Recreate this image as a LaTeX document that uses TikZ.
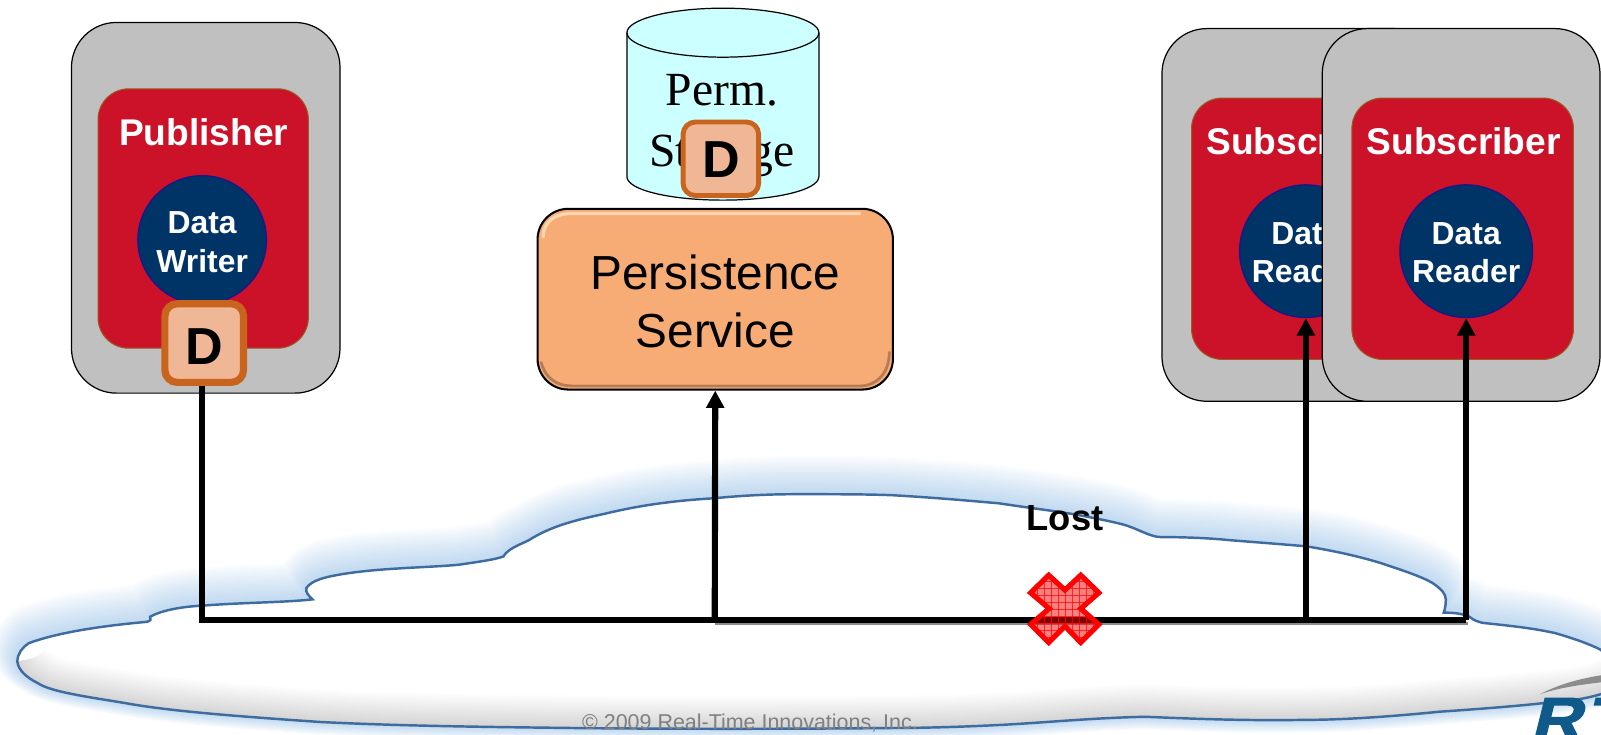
\documentclass[tikz,border=0pt]{standalone}
\usepackage{fontspec}
\setmainfont{Liberation Sans}
\newfontfamily\serifface{Liberation Serif}
\newfontface\logoface[FakeBold=2,FakeSlant=.25,FakeStretch=1.15]{Liberation Sans Bold}
\usetikzlibrary{arrows.meta}
\definecolor{boxgray}{HTML}{C0C0C0}
\definecolor{pubred}{HTML}{CC1229}
\definecolor{pubedge}{HTML}{9A5A20}
\definecolor{navy}{HTML}{003366}
\definecolor{navyedge}{HTML}{1A1490}
\definecolor{dfill}{HTML}{EFB795}
\definecolor{dedge}{HTML}{C8641E}
\definecolor{psfill}{HTML}{F7AC76}
\definecolor{pslight}{HTML}{FCD6B0}
\definecolor{psdark}{HTML}{9A6A48}
\definecolor{cyl}{HTML}{CCFFFF}
\definecolor{cloudedge}{HTML}{3F6C9E}
\definecolor{cloudglow}{HTML}{5B9BD8}
\definecolor{logoblue}{HTML}{0F5A8A}
\tikzset{
  x=0.5pt,y=-0.5pt,
  hostbox/.style={draw=black,line width=0.6pt,fill=boxgray,rounded corners=22pt,inner sep=0pt},
  redbox/.style={draw=pubedge,line width=0.5pt,fill=pubred,rounded corners=15pt,inner sep=0pt},
  endpoint/.style={circle,draw=navyedge,line width=0.6pt,fill=navy,inner sep=0pt},
  endtext/.style={text=white,font=\fontsize{15.6}{19}\bfseries\selectfont,align=center,inner sep=0pt},
  dbox/.style={draw=dedge,fill=dfill,rounded corners=6pt,inner sep=0pt},
  dtext/.style={font=\fontsize{25.5}{26}\bfseries\selectfont,inner sep=0pt},
  redlabel/.style={text=white,font=\fontsize{18.2}{18}\bfseries\selectfont,inner sep=0pt},
  wire/.style={line width=3pt,draw=black},
  arrowwire/.style={wire,-{Triangle[length=8.5pt,width=8.5pt]}},
}
\newcommand{\cloudtop}{(17,648) .. controls (17,640) and (22,634) .. (28,630)
 .. controls (60,618) and (110,612) .. (144,609) .. controls (148,608) and (148,606) .. (147,604)
 .. controls (160,597) and (180,594) .. (200,593) .. controls (240,590) and (280,590) .. (306,587)
 .. controls (302,583) and (299,580) .. (300,576) .. controls (305,568) and (320,565) .. (331,563)
 .. controls (370,556) and (420,556) .. (450,553) .. controls (470,550) and (485,548) .. (493,545)
 .. controls (498,537) and (508,534) .. (518,529) .. controls (540,515) and (565,509) .. (593,503)
 .. controls (630,494) and (665,490) .. (699,488) .. controls (730,485) and (755,484) .. (781,484)
 .. controls (815,484) and (850,484) .. (874,485) .. controls (910,487) and (945,490) .. (979,493)
 .. controls (1005,497) and (1030,500) .. (1054,504) .. controls (1080,509) and (1100,513) .. (1107,516)
 .. controls (1118,520) and (1128,526) .. (1137,526) .. controls (1160,526) and (1185,527) .. (1204,529)
 .. controls (1230,531) and (1255,533) .. (1279,535) .. controls (1310,540) and (1335,546) .. (1354,552)
 .. controls (1375,559) and (1393,565) .. (1403,571) .. controls (1412,577) and (1416,582) .. (1416,587)
 .. controls (1416,593) and (1415,597) .. (1414,600) .. controls (1425,600) and (1432,601) .. (1439,604)
 .. controls (1444,608) and (1448,609) .. (1452,610) .. controls (1480,613) and (1500,615) .. (1523,620)
 .. controls (1540,625) and (1555,630) .. (1567,636) .. controls (1580,645) and (1590,665) .. (1580,675)}
\newcommand{\cloudbottom}{.. controls (1560,685) and (1530,687) .. (1508,689) .. controls (1480,692) and (1440,695) .. (1410,697)
 .. controls (1370,701) and (1320,705) .. (1279,705) .. controls (1220,706) and (1170,704) .. (1122,702)
 .. controls (1070,703) and (1020,708) .. (979,710) .. controls (940,712) and (900,713) .. (874,713)
 .. controls (770,714) and (660,714) .. (562,713) .. controls (480,712) and (390,711) .. (312,707)
 .. controls (240,702) and (170,697) .. (125,689) .. controls (90,683) and (50,678) .. (37,669)
 .. controls (25,663) and (18,656) .. (17,648)}
\newcommand{\cloudpath}{\cloudtop \cloudbottom -- cycle}
\newcommand{\crosspath}{(-17.5,-36.5) -- (0,-20.5) -- (17,-36.5) -- (36.5,-17.5) -- (17,-.5) -- (36.5,16.5) -- (17,36) -- (0,18.5) -- (-17.5,36) -- (-37,16.5) -- (-17,-.5) -- (-37,-17.5) -- cycle}
\begin{document}
\begin{tikzpicture}
\useasboundingbox (0,0) rectangle (1568,719);
\clip (0,0) rectangle (1568,719);
% cloud
\foreach \w in {50,47,...,2}{
  \draw[cloudglow,line width=\w*0.5pt,opacity=.026,line join=round,yshift=\w*0.125pt] \cloudpath;
}
\fill[white] \cloudpath;
\begin{scope}
  \clip \cloudpath;
  \foreach \w in {64,61,...,1}{
    \draw[black,line width=\w*0.5pt,opacity=.008,line join=round] (1580,675) \cloudbottom;
  }
\end{scope}
\draw[cloudedge,line width=1.2pt] \cloudpath;
% publisher
\node[hostbox,minimum width=131.5pt,minimum height=181.5pt] (pubhost) at (201.5,203.5) {};
\node[redbox,minimum width=103pt,minimum height=127pt] (pub) at (199,214) {};
\node[redlabel] (publabel) at (199.5,129.5) {Publisher};
\node[endpoint,minimum size=63pt] (writer) at (198,235) {};
\node[endtext] (writertext) at (198,237) {Data\\Writer};
\node[dbox,line width=3.5pt,minimum width=38.5pt,minimum height=38.5pt] (dpub) at (200,336) {};
\node[dtext] (dpubtext) at (200,339) {D};
% storage
\fill[cyl,draw=black,line width=.6pt] (614,32) .. controls (614,19) and (656,8) .. (708,8) .. controls (760,8) and (802,19) .. (802,32) -- (802,173) .. controls (802,186) and (760,196) .. (708,196) .. controls (656,196) and (614,186) .. (614,173) -- cycle;
\draw[black,line width=.6pt] (614,32) .. controls (614,45) and (656,56) .. (708,56) .. controls (760,56) and (802,45) .. (802,32);
\node[font=\serifface\fontsize{23.3}{29.5}\selectfont,align=center,inner sep=0pt] (storelabel) at (707,123) {Perm.\\Storage};
\node[dbox,line width=2.4pt,minimum width=37pt,minimum height=36pt] (dstore) at (706,155.5) {};
\node[dtext] (dstoretext) at (706.5,156) {D};
% persistence
\node[draw=black,line width=1pt,fill=psfill,rounded corners=15pt,minimum width=174pt,minimum height=88.5pt,inner sep=0pt] (persist) at (700.5,293) {};
\draw[pslight,line width=1.6pt,line cap=round] (532,232) .. controls (532,216) and (545,209) .. (560,209) -- (842,209);
\draw[psdark,line width=1.4pt,opacity=.7,line cap=round] (871,345) .. controls (871,366) and (858,378) .. (842,378) -- (560,378) .. controls (545,378) and (534,370) .. (530,355);
\node[font=\fontsize{23.4}{28.5}\selectfont,align=center,inner sep=0pt] (persisttext) at (700.5,295) {Persistence\\Service};
% subscribers
\node[hostbox,minimum width=136pt,minimum height=182.5pt] (subhostb) at (1274,210.5) {};
\node[redbox,minimum width=108.5pt,minimum height=128pt] (subb) at (1275.5,224) {};
\node[redlabel] (sublabelb) at (1276.5,138) {Subscriber};
\node[endpoint,minimum size=65pt] (readerb) at (1279,246) {};
\node[endtext] (readerbtext) at (1279,247.5) {Data\\Reader};
\node[hostbox,minimum width=136pt,minimum height=182.5pt] (subhost) at (1431,210.5) {};
\node[redbox,minimum width=108.5pt,minimum height=128pt] (sub) at (1432.5,224) {};
\node[redlabel] (sublabel) at (1433.5,138) {Subscriber};
\node[endpoint,minimum size=65pt] (reader) at (1436,246) {};
\node[endtext] (readertext) at (1436,247.5) {Data\\Reader};
% wires
\coordinate (bus1) at (198,607);
\coordinate (bus2) at (700,607);
\coordinate (bus3) at (1279,607);
\coordinate (bus4) at (1436,607);
\draw[black!45,line width=1.2pt] (700,610.5) -- (1438,610.5);
\draw[wire,line join=miter] (dpub.south -| bus1) -- (bus1) -- (bus4);
\draw[arrowwire] (bus2) -- (persist.south);
\draw[arrowwire] (bus3) -- (readerb.south);
\draw[arrowwire] (bus4) -- (reader.south);
% lost
\node[font=\fontsize{17.8}{18}\bfseries\selectfont,inner sep=0pt] (lost) at (1043,507) {Lost};
\begin{scope}[shift={(1043,596.5)},scale=.91]
  \begin{scope}
    \clip \crosspath;
    \fill[red,opacity=.5] (-45,-45) rectangle (45,45);
    \foreach \k in {-6,...,6}{
      \draw[red,line width=.25pt,opacity=.7] (\k*7.5,-45) -- (\k*7.5,45);
      \draw[red,line width=.25pt,opacity=.7] (-45,\k*7.5) -- (45,\k*7.5);
    }
  \end{scope}
  \draw[red,line width=2.5pt,line join=miter] \crosspath;
\end{scope}
% footer
\node[text=black!50,font=\fontsize{10.5}{12}\selectfont,inner sep=0pt] (copy) at (734.5,708) {© 2009 Real-Time Innovations, Inc.};
% logo
\fill[black!45] (1508,680) .. controls (1525,671) and (1545,665) .. (1570,661) -- (1570,668) .. controls (1545,671) and (1525,674) .. (1508,680) -- cycle;
\node[anchor=base west,text=logoblue,font=\logoface\fontsize{30}{30}\selectfont,inner sep=0pt] (logo) at (1498,725) {R\hspace{2pt}TI};
\end{tikzpicture}
\end{document}
